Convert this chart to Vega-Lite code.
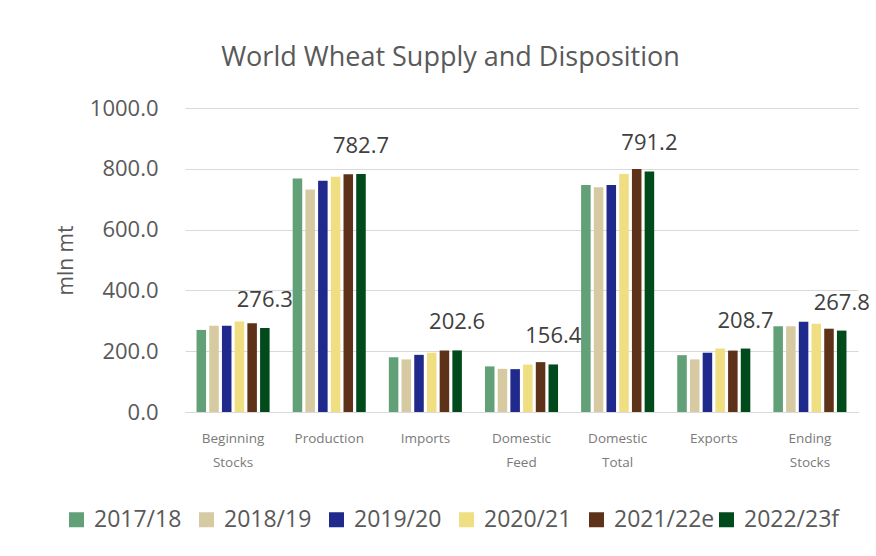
{
  "$schema": "https://vega.github.io/schema/vega-lite/v6.json",
  "width": 673,
  "height": 304,
  "autosize": {"type": "none"},
  "padding": {"left": 185, "top": 108, "right": 18, "bottom": 144},
  "background": "white",
  "title": {
    "text": "World Wheat Supply and Disposition",
    "font": "Open Sans",
    "fontSize": 27,
    "fontWeight": "normal",
    "color": "#595959",
    "anchor": "middle",
    "dx": -71,
    "offset": 25
  },
  "data": {
    "values": [
      {"category": "Beginning Stocks", "year": "2017/18", "value": 270},
      {"category": "Beginning Stocks", "year": "2018/19", "value": 284},
      {"category": "Beginning Stocks", "year": "2019/20", "value": 284},
      {"category": "Beginning Stocks", "year": "2020/21", "value": 298},
      {"category": "Beginning Stocks", "year": "2021/22e", "value": 292},
      {"category": "Beginning Stocks", "year": "2022/23f", "value": 276.3},
      {"category": "Production", "year": "2017/18", "value": 768},
      {"category": "Production", "year": "2018/19", "value": 732},
      {"category": "Production", "year": "2019/20", "value": 761},
      {"category": "Production", "year": "2020/21", "value": 774},
      {"category": "Production", "year": "2021/22e", "value": 782},
      {"category": "Production", "year": "2022/23f", "value": 782.7},
      {"category": "Imports", "year": "2017/18", "value": 180},
      {"category": "Imports", "year": "2018/19", "value": 173},
      {"category": "Imports", "year": "2019/20", "value": 188},
      {"category": "Imports", "year": "2020/21", "value": 195},
      {"category": "Imports", "year": "2021/22e", "value": 202},
      {"category": "Imports", "year": "2022/23f", "value": 202.6},
      {"category": "Domestic Feed", "year": "2017/18", "value": 150},
      {"category": "Domestic Feed", "year": "2018/19", "value": 142},
      {"category": "Domestic Feed", "year": "2019/20", "value": 141},
      {"category": "Domestic Feed", "year": "2020/21", "value": 156},
      {"category": "Domestic Feed", "year": "2021/22e", "value": 164},
      {"category": "Domestic Feed", "year": "2022/23f", "value": 156.4},
      {"category": "Domestic Total", "year": "2017/18", "value": 747},
      {"category": "Domestic Total", "year": "2018/19", "value": 739},
      {"category": "Domestic Total", "year": "2019/20", "value": 747},
      {"category": "Domestic Total", "year": "2020/21", "value": 783},
      {"category": "Domestic Total", "year": "2021/22e", "value": 799},
      {"category": "Domestic Total", "year": "2022/23f", "value": 791.2},
      {"category": "Exports", "year": "2017/18", "value": 187},
      {"category": "Exports", "year": "2018/19", "value": 173},
      {"category": "Exports", "year": "2019/20", "value": 195},
      {"category": "Exports", "year": "2020/21", "value": 209},
      {"category": "Exports", "year": "2021/22e", "value": 202},
      {"category": "Exports", "year": "2022/23f", "value": 208.7},
      {"category": "Ending Stocks", "year": "2017/18", "value": 282},
      {"category": "Ending Stocks", "year": "2018/19", "value": 282},
      {"category": "Ending Stocks", "year": "2019/20", "value": 297},
      {"category": "Ending Stocks", "year": "2020/21", "value": 290},
      {"category": "Ending Stocks", "year": "2021/22e", "value": 274},
      {"category": "Ending Stocks", "year": "2022/23f", "value": 267.8}
    ]
  },
  "encoding": {
    "x": {
      "field": "category",
      "type": "nominal",
      "sort": null,
      "scale": {"paddingInner": 0.24, "paddingOuter": 0.12},
      "axis": {
        "title": null,
        "labelAngle": 0,
        "labelExpr": "split(datum.label, ' ')",
        "labelFont": "Open Sans",
        "labelFontSize": 13.5,
        "labelColor": "#7a7a7a",
        "labelLineHeight": 24,
        "labelPadding": 19,
        "ticks": false,
        "domain": true,
        "domainColor": "#d9d9d9",
        "grid": false
      }
    },
    "xOffset": {
      "field": "year",
      "type": "nominal",
      "scale": {"paddingInner": 0.25, "paddingOuter": 0}
    },
    "y": {
      "field": "value",
      "type": "quantitative",
      "scale": {"domain": [0, 1000]},
      "axis": {
        "title": "mln mt",
        "titleFont": "Open Sans",
        "titleFontSize": 21,
        "titleFontWeight": "normal",
        "titleColor": "#595959",
        "titlePadding": 13,
        "values": [0, 200, 400, 600, 800, 1000],
        "format": ".1f",
        "labelFont": "Open Sans",
        "labelFontSize": 22,
        "labelColor": "#595959",
        "labelPadding": 27,
        "ticks": false,
        "domain": false,
        "grid": true,
        "gridColor": "#d9d9d9",
        "gridWidth": 1
      }
    }
  },
  "layer": [
    {
      "mark": {"type": "bar"},
      "encoding": {
        "color": {
          "field": "year",
          "type": "nominal",
          "scale": {
            "domain": ["2017/18", "2018/19", "2019/20", "2020/21", "2021/22e", "2022/23f"],
            "range": ["#62a078", "#d6caa3", "#1f2a8c", "#f0de82", "#5e3218", "#004a1c"]
          },
          "legend": {
            "title": null,
            "orient": "none",
            "legendX": -120,
            "legendY": 400,
            "direction": "horizontal",
            "columns": 6,
            "gridAlign": "all",
            "columnPadding": 0,
            "symbolType": "square",
            "symbolSize": 225,
            "symbolStrokeWidth": 0,
            "labelOffset": 6,
            "labelFont": "Open Sans",
            "labelFontSize": 23,
            "labelColor": "#595959",
            "labelLimit": 200
          }
        }
      }
    },
    {
      "transform": [{"filter": "datum.year === '2022/23f'"}],
      "mark": {
        "type": "text",
        "font": "Open Sans",
        "fontSize": 22,
        "color": "#404040",
        "baseline": "alphabetic",
        "dy": -21
      },
      "encoding": {
        "text": {"field": "value", "type": "quantitative", "format": ".1f"}
      }
    }
  ],
  "config": {
    "view": {"stroke": null}
  }
}
